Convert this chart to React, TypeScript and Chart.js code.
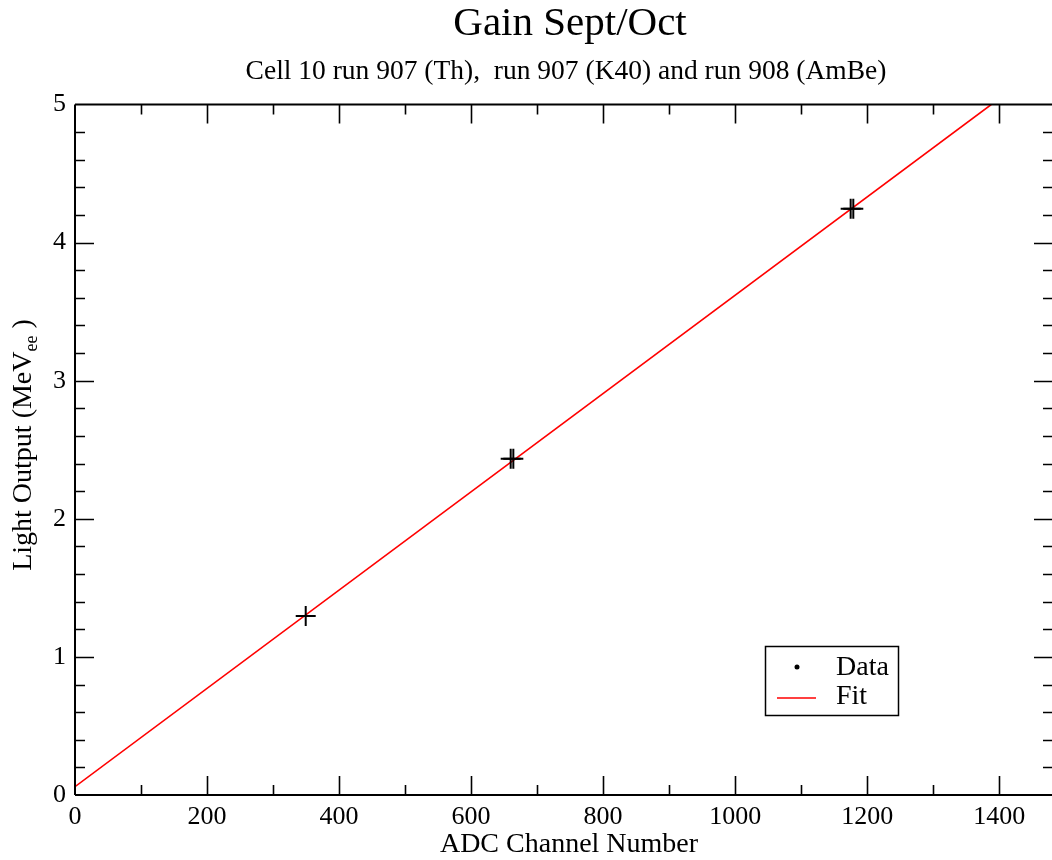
import React, { useEffect, useRef } from "react";
import { Chart, registerables } from "chart.js";

Chart.register(...registerables);

const titleText = "Gain Sept/Oct";
const subtitleText = "Cell 10 run 907 (Th),  run 907 (K40) and run 908 (AmBe)";
const xTitle = "ADC Channel Number";
const yTitleMain = "Light Output (MeV";
const yTitleSub = "ee";
const yTitleEnd = " )";

const dataX = [349.5, 660, 664, 1175, 1179];
const dataY = [1.297, 2.435, 2.435, 4.246, 4.246];

const fitX = [0, 1388];
const fitY = [0.06, 5.0];

const xTicks = [0, 200, 400, 600, 800, 1000, 1200, 1400];
const yTicks = [0, 1, 2, 3, 4, 5];
const xMinorStep = 100;
const yMinorStep = 0.2;
const xMin = 0;
const xMax = 1480;
const yMin = 0;
const yMax = 5;

const legendLabels = ["Data", "Fit"];

const FONT = "'Liberation Serif', 'Times New Roman', serif";

export default function App() {
  const ref = useRef<HTMLCanvasElement | null>(null);

  useEffect(() => {
    document.body.style.margin = "0";
    const canvas = ref.current;
    if (!canvas) return;

    const decor = {
      id: "decor",
      afterDraw(chart: any) {
        const ctx = chart.ctx;
        const { left, right, top, bottom } = chart.chartArea;
        const xs = chart.scales.x;
        const ys = chart.scales.y;
        ctx.save();
        ctx.strokeStyle = "#000";
        ctx.lineWidth = 2;
        // frame (right edge falls just outside the visible page)
        ctx.beginPath();
        ctx.moveTo(left, top);
        ctx.lineTo(right + 2, top);
        ctx.moveTo(left, top);
        ctx.lineTo(left, bottom);
        ctx.moveTo(left, bottom);
        ctx.lineTo(right + 2, bottom);
        ctx.stroke();
        // ticks
        ctx.lineWidth = 1.6;
        const majL = 19, minL = 10;
        ctx.beginPath();
        for (let v = xMin; v <= xMax + 1e-9; v += xMinorStep) {
          const isMaj = xTicks.some((t) => Math.abs(t - v) < 1e-6);
          const L = isMaj ? majL : minL;
          const px = Math.round(xs.getPixelForValue(v)) + 0.5;
          if (px <= left + 1 || px >= right - 1) continue;
          ctx.moveTo(px, bottom);
          ctx.lineTo(px, bottom - L);
          ctx.moveTo(px, top);
          ctx.lineTo(px, top + L);
        }
        for (let i = 0; i * yMinorStep <= yMax + 1e-9; i++) {
          const v = yMin + i * yMinorStep;
          const isMaj = yTicks.some((t) => Math.abs(t - v) < 1e-6);
          const L = isMaj ? majL : minL;
          const py = Math.round(ys.getPixelForValue(v)) + 0.5;
          if (py <= top + 1 || py >= bottom - 1) continue;
          ctx.moveTo(left, py);
          ctx.lineTo(left + L, py);
          ctx.moveTo(right + 1, py);
          ctx.lineTo(right + 1 - L, py);
        }
        ctx.stroke();

        // titles
        ctx.fillStyle = "#000";
        ctx.textAlign = "center";
        ctx.textBaseline = "middle";
        ctx.font = `41px ${FONT}`;
        ctx.fillText(titleText, 570, 24);
        ctx.font = `27.5px ${FONT}`;
        ctx.fillText(subtitleText, 566, 72);
        ctx.font = `28px ${FONT}`;
        ctx.fillText(xTitle, 569, 845);

        // y title with subscript
        ctx.save();
        ctx.translate(22, 445);
        ctx.rotate(-Math.PI / 2);
        ctx.textBaseline = "alphabetic";
        ctx.textAlign = "left";
        ctx.font = `28px ${FONT}`;
        const w1 = ctx.measureText(yTitleMain).width;
        ctx.font = `18px ${FONT}`;
        const w2 = ctx.measureText(yTitleSub).width;
        ctx.font = `28px ${FONT}`;
        const w3 = ctx.measureText(yTitleEnd).width;
        const total = w1 + w2 + w3;
        let x0 = -total / 2;
        const base = 9;
        ctx.fillText(yTitleMain, x0, base);
        x0 += w1;
        ctx.font = `18px ${FONT}`;
        ctx.fillText(yTitleSub, x0, base + 6);
        x0 += w2;
        ctx.font = `28px ${FONT}`;
        ctx.fillText(yTitleEnd, x0, base);
        ctx.restore();

        // legend
        const bx = 765, by = 646, bw = 133, bh = 69;
        ctx.lineWidth = 1.5;
        ctx.strokeStyle = "#000";
        ctx.strokeRect(bx + 0.5, by + 0.5, bw, bh);
        ctx.beginPath();
        ctx.arc(797, 667, 2.5, 0, Math.PI * 2);
        ctx.fill();
        ctx.strokeStyle = "#ff0000";
        ctx.lineWidth = 1.5;
        ctx.beginPath();
        ctx.moveTo(777, 698);
        ctx.lineTo(816, 698);
        ctx.stroke();
        ctx.fillStyle = "#000";
        ctx.textAlign = "left";
        ctx.textBaseline = "middle";
        ctx.font = `28px ${FONT}`;
        ctx.fillText(legendLabels[0], 836, 668);
        ctx.fillText(legendLabels[1], 836, 697);
        ctx.restore();
      },
    };

    const chart = new Chart(canvas, {
      type: "scatter",
      data: {
        datasets: [
          {
            label: legendLabels[1],
            type: "line",
            data: fitX.map((x, i) => ({ x, y: fitY[i] })),
            borderColor: "#ff0000",
            borderWidth: 1.6,
            pointRadius: 0,
            fill: false,
            tension: 0,
            order: 2,
          },
          {
            label: legendLabels[0],
            data: dataX.map((x, i) => ({ x, y: dataY[i] })),
            pointStyle: "cross",
            pointRadius: 10,
            pointBorderWidth: 2,
            borderColor: "#000",
            backgroundColor: "#000",
            order: 1,
          },
        ],
      },
      options: {
        animation: false,
        responsive: false,
        maintainAspectRatio: false,
        layout: { autoPadding: false, padding: { top: 104.5, right: 0, left: 0, bottom: 0 } },
        plugins: {
          legend: { display: false },
          title: { display: false },
          tooltip: { enabled: false },
        },
        scales: {
          x: {
            type: "linear",
            min: xMin,
            max: xMax,
            grid: { display: false, drawTicks: false },
            border: { display: false },
            afterBuildTicks: (s: any) => {
              s.ticks = xTicks.map((v) => ({ value: v }));
            },
            afterFit: (s: any) => {
              s.height = 65;
              s.paddingLeft = 0;
              s.paddingRight = 0;
            },
            ticks: {
              padding: 7,
              color: "#000",
              font: { family: FONT, size: 26 },
              maxRotation: 0,
              autoSkip: false,
              callback: (v: any) => String(v),
            },
          },
          y: {
            type: "linear",
            min: yMin,
            max: yMax,
            grid: { display: false, drawTicks: false },
            border: { display: false },
            afterBuildTicks: (s: any) => {
              s.ticks = yTicks.map((v) => ({ value: v }));
            },
            afterFit: (s: any) => {
              s.width = 75;
              s.paddingTop = 0;
              s.paddingBottom = 0;
            },
            ticks: {
              padding: 9,
              color: "#000",
              font: { family: FONT, size: 26 },
              callback: (v: any) => String(v),
            },
          },
        },
      },
      plugins: [decor],
    });

    return () => chart.destroy();
  }, []);

  return (
    <div style={{ width: 1052, height: 860 }}>
      <canvas ref={ref} width={1052} height={860} style={{ display: "block" }} />
    </div>
  );
}
